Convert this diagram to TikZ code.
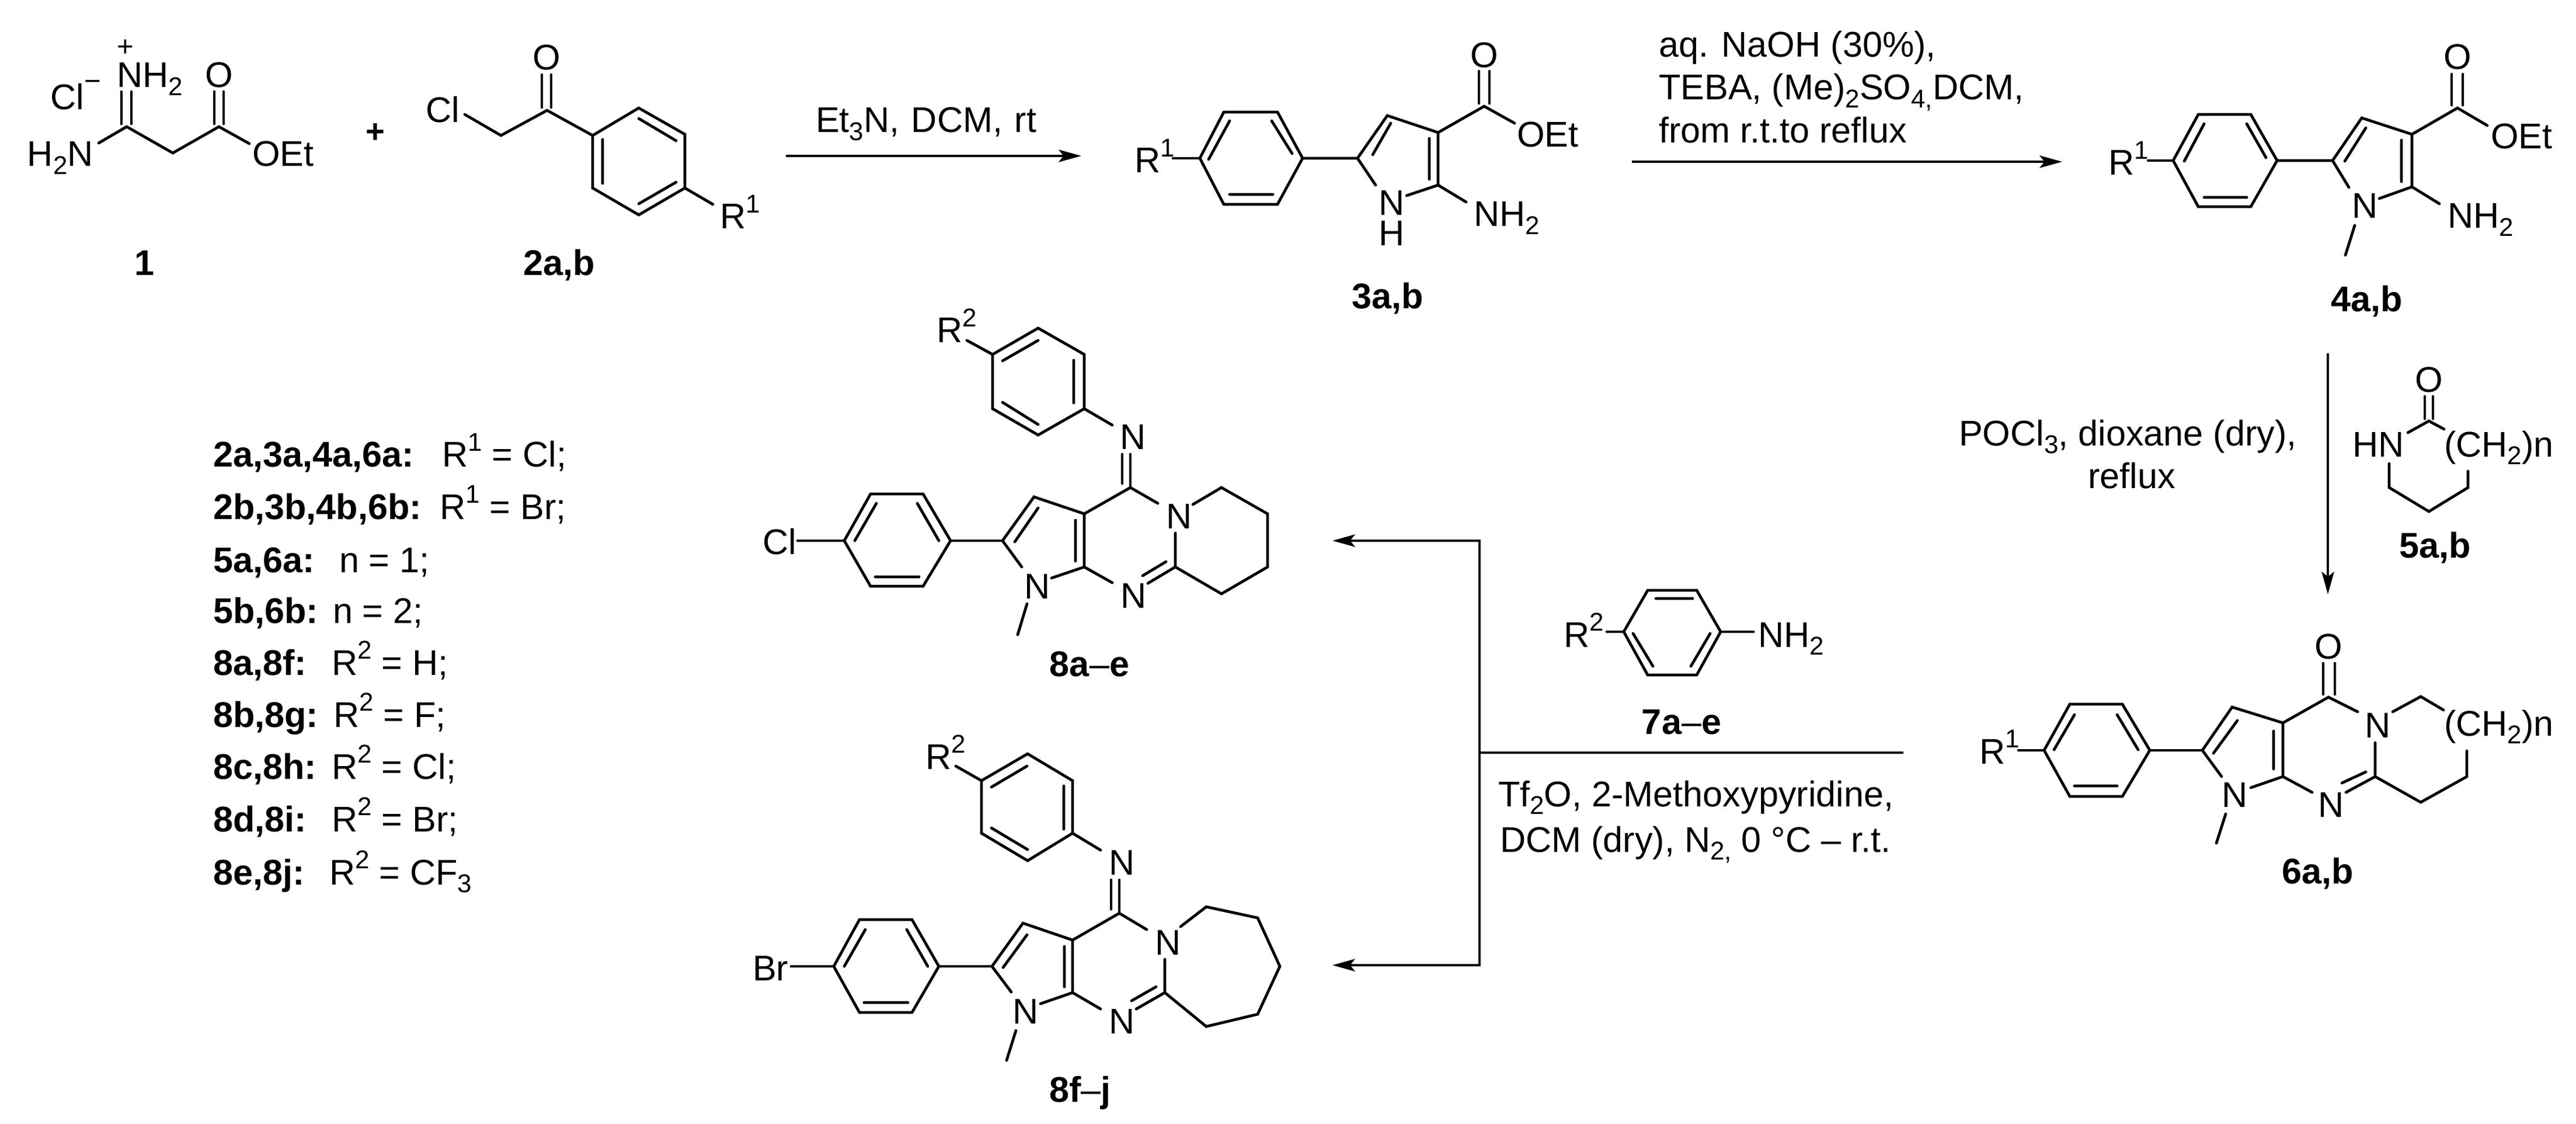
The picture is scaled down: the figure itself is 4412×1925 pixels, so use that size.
\documentclass[tikz,border=0pt]{standalone}
\usepackage{fontspec}
\setmainfont{Liberation Sans}
\usetikzlibrary{arrows.meta}
\newcommand{\chsub}[1]{\raisebox{-3.7pt}{\fontsize{12.5}{12.5}\selectfont #1}}
\newcommand{\chsup}[1]{\raisebox{7.7pt}{\fontsize{12.5}{12.5}\selectfont #1}}
\tikzset{
  txt/.style={anchor=base west,inner sep=0pt,outer sep=0pt,font=\fontsize{17.4}{20}\selectfont},
  lab/.style={anchor=base,inner sep=0pt,outer sep=0pt,font=\fontsize{17.4}{20}\selectfont\bfseries},
  key/.style={anchor=base west,inner sep=0pt,outer sep=0pt,font=\fontsize{17.4}{20}\selectfont\bfseries},
  chg/.style={anchor=center,inner sep=0pt,outer sep=0pt,font=\fontsize{14}{14}\selectfont},
  bond/.style={line width=1.35pt,line cap=round,line join=miter,black},
  rxn/.style={line width=1.3pt,black,-{Stealth[length=11pt,width=6pt,inset=2.4pt]}},
  rxnline/.style={line width=1.3pt,black}
}
\begin{document}
\begin{tikzpicture}[x=0.01cm,y=-0.01cm]
\useasboundingbox (0,0) rectangle (4412,1925);
% ---------- compound 1
\node[txt] (c1nh) at (200,150) {NH\chsub{2}};
\node[chg] (c1plus) at (215,82) {+};
\node[txt] (c1cl) at (86,188) {Cl};
\node[chg] (c1minus) at (159,146) {−};
\node[txt,anchor=base] (c1o) at (375,150) {O};
\node[txt] (c1h2n) at (47,285) {H\chsub{2}N};
\node[txt] (c1oet) at (432,285) {OEt};
\node[lab] (l1) at (248,472) {1};
\draw[bond] (169,245)--(217,217)--(296,262)--(375,217)--(427,246);
\draw[bond] (208,157)--(208,212) (225,157)--(225,212);
\draw[bond] (367,157)--(367,212) (383,157)--(383,212);
\node[anchor=center,inner sep=0pt,font=\fontsize{16}{16}\selectfont\bfseries] (plus) at (643,228) {+};
% ---------- compound 2
\node[txt] (c2cl) at (729,210) {Cl};
\node[txt,anchor=base] (c2o) at (936,120) {O};
\node[txt] (c2r) at (1233,392) {R\chsup{1}};
\node[lab] (l2) at (958,472) {2a,b};
\draw[bond] (796,196)--(858,232)--(937,189)--(1015,232);
\draw[bond] (928,128)--(928,184) (944,128)--(944,184);
\draw[bond] (1015,232)--(1094,185)--(1173,230)--(1173,322)--(1094,368)--(1015,322)--cycle;
\draw[bond] (1094,203)--(1158,241) (1032,239)--(1032,314) (1158,312)--(1094,349);
\draw[bond] (1173,322)--(1221,350);
% ---------- arrow 1
\coordinate (a1s) at (1346,267);
\coordinate (a1e) at (1852,267);
\draw[rxn] (a1s)--(a1e);
\node[txt] (a1t) at (1397,227) {Et\chsub{3}N,\kern1pt{} DCM,\kern1pt{} rt};
% ---------- compound 3
\node[txt] (c3r) at (1943,296) {R\chsup{1}};
\node[txt] (c3n) at (2361,369) {N};
\node[txt] (c3h) at (2361,421) {H};
\node[txt] (c3nh) at (2524,388) {NH\chsub{2}};
\node[txt,anchor=base] (c3o) at (2542,116) {O};
\node[txt] (c3oet) at (2598,252) {OEt};
\node[lab] (l3) at (2377,529) {3a,b};
\draw[bond] (2009,271)--(2055,271);
\draw[bond] (2055,271)--(2096,192)--(2188,192)--(2231,271)--(2188,350)--(2096,350)--cycle;
\draw[bond] (2070,273)--(2106,207) (2178,207)--(2213,263) (2106,333)--(2180,333);
\draw[bond] (2231,271)--(2325,271)--(2376,198)--(2463,227)--(2463,317)--(2409,335);
\draw[bond] (2325,271)--(2356,317);
\draw[bond] (2463,317)--(2511,346);
\draw[bond] (2351,265)--(2382,211) (2448,237)--(2448,307);
\draw[bond] (2463,227)--(2542,182)--(2594,211);
\draw[bond] (2533,122)--(2533,177) (2551,122)--(2551,177);
% ---------- arrow 2
\coordinate (a2s) at (2795,277);
\coordinate (a2e) at (3532,277);
\draw[rxn] (a2s)--(a2e);
\node[txt] (a2t1) at (2841,98) {aq. NaOH (30\%),};
\node[txt] (a2t2) at (2841,171) {TEBA, (Me)\chsub{2}SO\chsub{4,}DCM,};
\node[txt] (a2t3) at (2841,245) {from r.t.to reflux};
% ---------- compound 4
\node[txt] (c4r) at (3611,300) {R\chsup{1}};
\node[txt] (c4n) at (4028,374) {N};
\node[txt] (c4nh) at (4192,391) {NH\chsub{2}};
\node[txt,anchor=base] (c4o) at (4209,119) {O};
\node[txt] (c4oet) at (4266,255) {OEt};
\node[lab] (l4) at (4054,534) {4a,b};
\draw[bond] (3679,275)--(3722,275);
\draw[bond] (3722,275)--(3765,196)--(3855,196)--(3900,275)--(3855,354)--(3765,354)--cycle;
\draw[bond] (3741,276)--(3775,212) (3848,212)--(3881,270) (3775,338)--(3848,338);
\draw[bond] (3900,275)--(3995,275)--(4045,202)--(4131,230)--(4131,320)--(4075,340);
\draw[bond] (3995,275)--(4023,321);
\draw[bond] (4131,320)--(4178,349);
\draw[bond] (4033,386)--(4017,437);
\draw[bond] (4016,276)--(4052,219) (4113,240)--(4113,311);
\draw[bond] (4131,230)--(4209,185)--(4260,215);
\draw[bond] (4199,127)--(4199,180) (4218,127)--(4218,180);
% ---------- arrow 3
\coordinate (a3s) at (3987,605);
\coordinate (a3e) at (3987,1018);
\draw[rxn] (a3s)--(a3e);
\node[txt] (a3t1) at (3355,763) {POCl\chsub{3}, dioxane (dry),};
\node[txt,anchor=base] (a3t2) at (3651,837) {reflux};
% ---------- compound 5
\node[txt,anchor=base] (c5o) at (4160,672) {O};
\node[txt] (c5hn) at (4029,782) {HN};
\node[txt] (c5ch) at (4186,782) {(CH\chsub{2})n};
\node[lab] (l5) at (4171,955) {5a,b};
\draw[bond] (4124,741)--(4160,721)--(4186,735);
\draw[bond] (4153,679)--(4153,717) (4167,679)--(4167,717);
\draw[bond] (4092,794)--(4092,835)--(4160,876)--(4227,835)--(4227,807);
% ---------- compound 6
\node[txt,anchor=base] (c6o) at (3988,1128) {O};
\node[txt] (c6n1) at (4050,1263) {N};
\node[txt] (c6ch) at (4186,1260) {(CH\chsub{2})n};
\node[txt] (c6n2) at (3970,1399) {N};
\node[txt] (c6n3) at (3805,1382) {N};
\node[txt] (c6r) at (3390,1308) {R\chsup{1}};
\node[lab] (l6) at (3970,1513) {6a,b};
\draw[bond] (3979,1136)--(3979,1189) (3999,1136)--(3999,1189);
\draw[bond] (4038,1219)--(3988,1194)--(3910,1238)--(3910,1330)--(3960,1357);
\draw[bond] (4098,1219)--(4146,1193)--(4185,1216);
\draw[bond] (4225,1286)--(4225,1330)--(4146,1374)--(4068,1330)--(4068,1272);
\draw[bond] (4068,1330)--(4018,1357) (4052,1322)--(4011,1341);
\draw[bond] (3910,1238)--(3823,1211)--(3772,1285)--(3805,1330);
\draw[bond] (3910,1330)--(3855,1349);
\draw[bond] (3812,1394)--(3796,1444);
\draw[bond] (3791,1290)--(3832,1234) (3894,1252)--(3894,1317);
\draw[bond] (3772,1285)--(3682,1285);
\draw[bond] (3682,1285)--(3635,1206)--(3545,1206)--(3501,1285)--(3545,1364)--(3635,1364)--cycle;
\draw[bond] (3626,1224)--(3662,1284) (3553,1224)--(3518,1284) (3553,1346)--(3626,1346);
\draw[bond] (3501,1285)--(3457,1285);
% ---------- branched arrow and reagent 7
\coordinate (jr) at (3260,1289);
\coordinate (jm) at (2534,1289);
\coordinate (jt) at (2534,926);
\coordinate (jb) at (2534,1653);
\coordinate (tt) at (2282,926);
\coordinate (tb) at (2282,1653);
\draw[rxnline] (jr)--(jm);
\draw[rxn] (jm)--(jt)--(tt);
\draw[rxn] (jm)--(jb)--(tb);
\node[txt] (c7r) at (2678,1108) {R\chsup{2}};
\node[txt] (c7nh) at (3011,1108) {NH\chsub{2}};
\node[lab] (l7) at (2880,1257) {7a\mdseries–\bfseries e};
\draw[bond] (2781,1082)--(2822,1011)--(2906,1011)--(2947,1082)--(2906,1156)--(2822,1156)--cycle;
\draw[bond] (2836,1025)--(2899,1025) (2797,1085)--(2831,1141) (2929,1085)--(2896,1141);
\draw[bond] (2752,1082)--(2781,1082) (2947,1082)--(3003,1082);
\node[txt] (r7a) at (2566,1381) {Tf\chsub{2}O, 2-Methoxypyridine,};
\node[txt] (r7b) at (2569,1459) {DCM (dry), N\chsub{2,} 0 °C – r.t.};
% ---------- compound 8a-e
\node[txt] (d1r) at (1604,587) {R\chsup{2}};
\node[txt] (d1n1) at (1918,769) {N};
\node[txt] (d1n2) at (1997,905) {N};
\node[txt] (d1n3) at (1919,1041) {N};
\node[txt] (d1n4) at (1754,1025) {N};
\node[txt] (d1cl) at (1306,949) {Cl};
\node[lab] (l8a) at (1866,1158) {8a\mdseries–\bfseries e};
\draw[bond] (1656,583)--(1700,607);
\draw[bond] (1700,607)--(1778,562)--(1857,607)--(1857,700)--(1778,745)--(1700,700)--cycle;
\draw[bond] (1717,618)--(1778,583) (1839,617)--(1839,690) (1717,689)--(1778,727);
\draw[bond] (1857,700)--(1905,728);
\draw[bond] (1922,778)--(1922,828) (1936,778)--(1936,835);
\draw[bond] (1983,862)--(1936,835)--(1857,880)--(1857,971)--(1905,998);
\draw[bond] (2043,864)--(2092,835)--(2171,880)--(2171,971)--(2092,1017)--(2013,971)--(2013,913);
\draw[bond] (2013,971)--(1966,999) (1957,986)--(1997,962);
\draw[bond] (1857,880)--(1771,851)--(1717,926)--(1750,971);
\draw[bond] (1857,971)--(1801,990);
\draw[bond] (1759,1034)--(1743,1087);
\draw[bond] (1738,928)--(1778,870) (1842,891)--(1842,961);
\draw[bond] (1717,926)--(1628,926);
\draw[bond] (1628,926)--(1581,846)--(1491,846)--(1446,926)--(1491,1004)--(1581,1004)--cycle;
\draw[bond] (1571,862)--(1608,926) (1501,862)--(1464,926) (1499,988)--(1574,988);
\draw[bond] (1446,926)--(1366,926);
% ---------- compound 8f-j
\node[txt] (d2r) at (1585,1317) {R\chsup{2}};
\node[txt] (d2n1) at (1899,1498) {N};
\node[txt] (d2n2) at (1978,1635) {N};
\node[txt] (d2n3) at (1899,1770) {N};
\node[txt] (d2n4) at (1734,1753) {N};
\node[txt] (d2br) at (1289,1679) {Br};
\node[lab] (l8f) at (1850,1887) {8f\mdseries–\bfseries j};
\draw[bond] (1637,1312)--(1681,1337);
\draw[bond] (1681,1337)--(1760,1291)--(1837,1337)--(1837,1427)--(1760,1474)--(1681,1427)--cycle;
\draw[bond] (1698,1348)--(1759,1312) (1822,1346)--(1822,1420) (1698,1418)--(1760,1455);
\draw[bond] (1837,1427)--(1885,1456);
\draw[bond] (1903,1507)--(1903,1557) (1917,1507)--(1917,1564);
\draw[bond] (1964,1592)--(1917,1564)--(1837,1610)--(1837,1700)--(1885,1728);
\draw[bond] (2022,1587)--(2066,1553)--(2154,1572)--(2192,1655)--(2154,1737)--(2066,1758)--(1995,1700)--(1995,1643);
\draw[bond] (1995,1700)--(1946,1728) (1938,1714)--(1980,1690);
\draw[bond] (1837,1610)--(1752,1581)--(1699,1655)--(1732,1699);
\draw[bond] (1837,1700)--(1782,1719);
\draw[bond] (1740,1765)--(1724,1816);
\draw[bond] (1718,1657)--(1759,1601) (1823,1621)--(1823,1690);
\draw[bond] (1699,1655)--(1608,1655);
\draw[bond] (1608,1655)--(1562,1575)--(1472,1575)--(1428,1655)--(1472,1734)--(1562,1734)--cycle;
\draw[bond] (1553,1592)--(1589,1655) (1482,1592)--(1446,1655) (1480,1717)--(1555,1717);
\draw[bond] (1428,1655)--(1355,1655);
% ---------- legend
\node[key] (k1) at (365,800) {2a,3a,4a,6a:};
\node[txt] (v1) at (757,800) {R\chsup{1} = Cl;};
\node[key] (k2) at (365,889) {2b,3b,4b,6b:};
\node[txt] (v2) at (753,889) {R\chsup{1} = Br;};
\node[key] (k3) at (365,980) {5a,6a:};
\node[txt] (v3) at (581,980) {n = 1;};
\node[key] (k4) at (365,1067) {5b,6b:};
\node[txt] (v4) at (570,1067) {n = 2;};
\node[key] (k5) at (365,1156) {8a,8f:};
\node[txt] (v5) at (568,1156) {R\chsup{2} = H;};
\node[key] (k6) at (365,1245) {8b,8g:};
\node[txt] (v6) at (571,1245) {R\chsup{2} = F;};
\node[key] (k7) at (365,1334) {8c,8h:};
\node[txt] (v7) at (568,1334) {R\chsup{2} = Cl;};
\node[key] (k8) at (365,1424) {8d,8i:};
\node[txt] (v8) at (568,1424) {R\chsup{2} = Br;};
\node[key] (k9) at (365,1515) {8e,8j:};
\node[txt] (v9) at (564,1515) {R\chsup{2} = CF\chsub{3}};
\end{tikzpicture}
\end{document}
